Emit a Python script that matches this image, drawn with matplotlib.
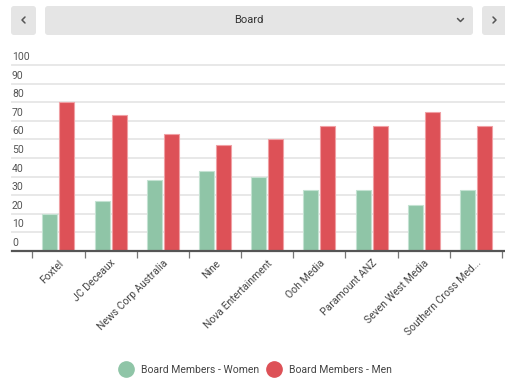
import matplotlib
matplotlib.use("Agg")
import matplotlib.pyplot as plt
import numpy as np
from matplotlib.patches import FancyBboxPatch
from matplotlib.lines import Line2D
from matplotlib.transforms import IdentityTransform, blended_transform_factory, ScaledTranslation

plt.rcParams['font.family'] = ['Roboto', 'DejaVu Sans']

categories = ["Foxtel", "JC Deceaux", "News Corp Australia", "Nine", "Nova Entertainment",
              "Ooh Media", "Paramount ANZ", "Seven West Media", "Southern Cross Med..."]
women = [20, 27, 38, 43, 40, 33, 33, 25, 33]
men = [80, 73, 63, 57, 60, 67, 67, 75, 67]
yticks = [0, 10, 20, 30, 40, 50, 60, 70, 80, 90, 100]
series_names = ["Board Members - Women", "Board Members - Men"]
colors = ["#8fc5a7", "#dd5157"]
edge_colors = ["#c4e2d2", "#f0a0a4"]

W, H = 505, 379
fig = plt.figure(figsize=(W / 100, H / 100), dpi=100)
fig.patch.set_facecolor("white")

ax_left, ax_right, ax_top, ax_bottom = 12, 505, 65, 251
ax = fig.add_axes([ax_left / W, (H - ax_bottom) / H, (ax_right - ax_left) / W, (ax_bottom - ax_top) / H])

cat_w = 52.2
first = 32.3
x0 = (ax_left - first) / cat_w - 0.5
x1 = (ax_right - first) / cat_w - 0.5
ax.set_xlim(x0, x1)
ax.set_ylim(0, 100)

x = np.arange(len(categories))
bw = 0.29
off = 0.163
ax.bar(x - off, women, bw, color=colors[0], edgecolor=edge_colors[0], linewidth=0.8, zorder=3)
ax.bar(x + off, men, bw, color=colors[1], edgecolor=edge_colors[1], linewidth=0.8, zorder=3)

for v in yticks[1:]:
    ax.axhline(v, color="#e8e8e8", lw=1.4, zorder=1, clip_on=False)

for s in ["top", "right", "left"]:
    ax.spines[s].set_visible(False)
ax.spines["bottom"].set_color("#555555")
ax.spines["bottom"].set_linewidth(1.6)
ax.spines["bottom"].set_zorder(4)

ax.set_yticks([])
trans = blended_transform_factory(ax.transAxes, ax.transData) + ScaledTranslation(0, 3 / 100, fig.dpi_scale_trans)
for v in yticks:
    ax.text(0.0, v, str(v), transform=trans, ha="left", va="bottom", fontsize=7.5, color="#555555")

ax.set_xticks(x)
ax.set_xticklabels([])
ax.set_xticks(np.arange(len(categories) + 1) - 0.5, minor=True)
ax.tick_params(axis="x", which="major", length=0)
ax.tick_params(axis="x", which="minor", length=5, width=0.9, color="#777777")

lab_trans = ax.transData + ScaledTranslation(0 / 100, -7 / 100, fig.dpi_scale_trans)
for i, c in enumerate(categories):
    ax.text(i, 0, c, transform=lab_trans, rotation=45, rotation_mode="anchor",
            ha="right", va="top", fontsize=7.5, color="#444444")

handles = [Line2D([], [], marker="o", ls="", markersize=11, color=colors[i], label=series_names[i]) for i in range(2)]
fig.legend(handles=handles, loc="center", bbox_to_anchor=(254 / W, (H - 370) / H), ncol=2, frameon=False,
           fontsize=7.5, handletextpad=0.45, columnspacing=0.4, labelcolor="#444444")

# top controls
idt = IdentityTransform()
def box(xa, xb, ya, yb):
    p = FancyBboxPatch((xa, H - yb), xb - xa, yb - ya, boxstyle="round,pad=0,rounding_size=3",
                       transform=idt, facecolor="#e5e5e5", edgecolor="none")
    fig.add_artist(p)
box(11, 36, 6, 35)
box(45, 473, 6, 35)
box(482, 515, 6, 35)
fig.text(249 / W, (H - 20) / H, "Board", ha="center", va="center", fontsize=8, color="#333333")

def chevron(pts):
    xs = [p[0] for p in pts]
    ys = [H - p[1] for p in pts]
    fig.add_artist(Line2D(xs, ys, transform=idt, color="#555555", lw=1.1, solid_capstyle="round", solid_joinstyle="round"))
chevron([(25, 17), (22, 20), (25, 23)])
chevron([(493, 17), (496, 20), (493, 23)])
chevron([(457.5, 18.5), (460.5, 21.5), (463.5, 18.5)])

fig.savefig("out.png", dpi=100, facecolor="white")
